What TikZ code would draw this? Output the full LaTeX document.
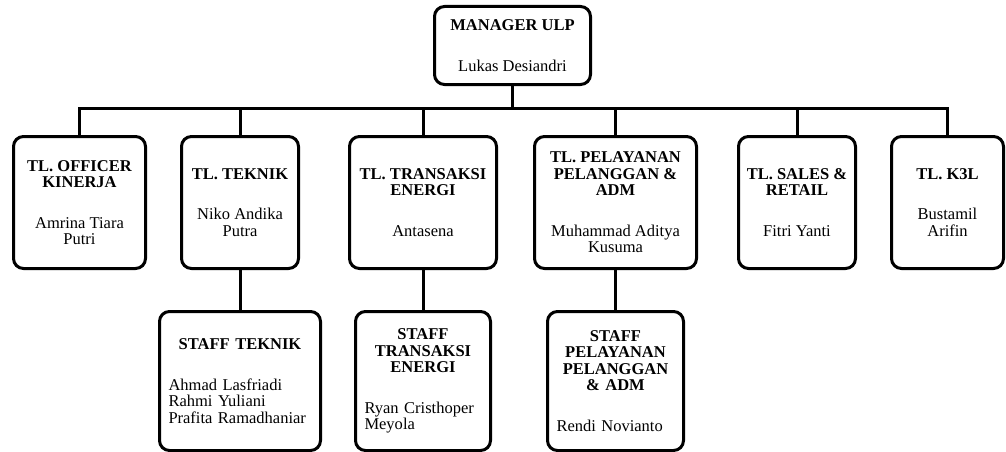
\documentclass[tikz,border=0pt]{standalone}
\usepackage{fontspec}
\setmainfont{Liberation Serif}
\usetikzlibrary{positioning}

\begin{document}
\begin{tikzpicture}[x=1pt, y=-1pt,
  box/.style={rectangle, rounded corners=10pt, draw=black, line width=3pt, inner sep=0pt, font=\fontsize{16.5}{16.5}\selectfont},
  leadnode/.style={box, align=center, minimum height=132pt},
  staffnode/.style={box, align=left, minimum height=139pt},
  link/.style={draw=black, line width=3pt}]

        \useasboundingbox (0,0) rectangle (1006,452);

        % manager
        \node[box, align=center, minimum width=156pt, minimum height=78pt] (mgr) at (512.5,45.5) {\textbf{MANAGER ULP}\\[24pt]Lukas Desiandri};

        % team leaders
        \node[leadnode, minimum width=132pt] (t1) at (79.5,202.5) {\textbf{TL. OFFICER}\\\textbf{KINERJA}\\[24pt]Amrina Tiara\\Putri};
        \node[leadnode, minimum width=117pt] (t2) [right=33pt of t1] {\textbf{TL. TEKNIK}\\[24pt]Niko Andika\\Putra};
        \node[leadnode, minimum width=147pt] (t3) [right=48pt of t2] {\textbf{TL. TRANSAKSI}\\\textbf{ENERGI}\\[24pt]Antasena};
        \node[leadnode, minimum width=162pt] (t4) [right=35pt of t3] {\textbf{TL. PELAYANAN}\\\textbf{PELANGGAN \&}\\\textbf{ADM}\\[24pt]Muhammad Aditya\\Kusuma};
        \node[leadnode, minimum width=117pt] (t5) [right=39pt of t4] {\textbf{TL. SALES \&}\\\textbf{RETAIL}\\[24pt]Fitri Yanti};
        \node[leadnode, minimum width=112pt] (t6) [right=33pt of t5] {\textbf{TL. K3L}\\[24pt]Bustamil\\Arifin};

        % staff
        \node[staffnode, minimum width=161pt, text width=143pt] (s2) [below=40pt of t2] {{\centering\textbf{STAFF TEKNIK}\par}\vspace{24pt}\noindent Ahmad Lasfriadi\\Rahmi Yuliani\\Prafita Ramadhaniar};
        \node[staffnode, minimum width=135pt, text width=117pt] (s3) [below=40pt of t3] {{\centering\textbf{STAFF}\\\textbf{TRANSAKSI}\\\textbf{ENERGI}\par}\vspace{24pt}\noindent Ryan Cristhoper\\Meyola};
        \node[staffnode, minimum width=136pt, text width=118pt] (s4) [below=40pt of t4] {{\centering\textbf{STAFF}\\\textbf{PELAYANAN}\\\textbf{PELANGGAN}\\\textbf{\& ADM}\par}\vspace{24pt}\noindent Rendi Novianto};

        % connectors
        \coordinate (bus) at (512.5,108);
        \draw[link] (mgr.south) -- (mgr.south |- bus);
        \draw[link] (t1.north) |- (bus) -| (t6.north);
        \foreach \n in {t2,t3,t4,t5}
            \draw[link] (\n.north) -- (\n.north |- bus);
        \foreach \n in {2,3,4}
            \draw[link] (t\n.south) -- (s\n.north);

\end{tikzpicture}
\end{document}
